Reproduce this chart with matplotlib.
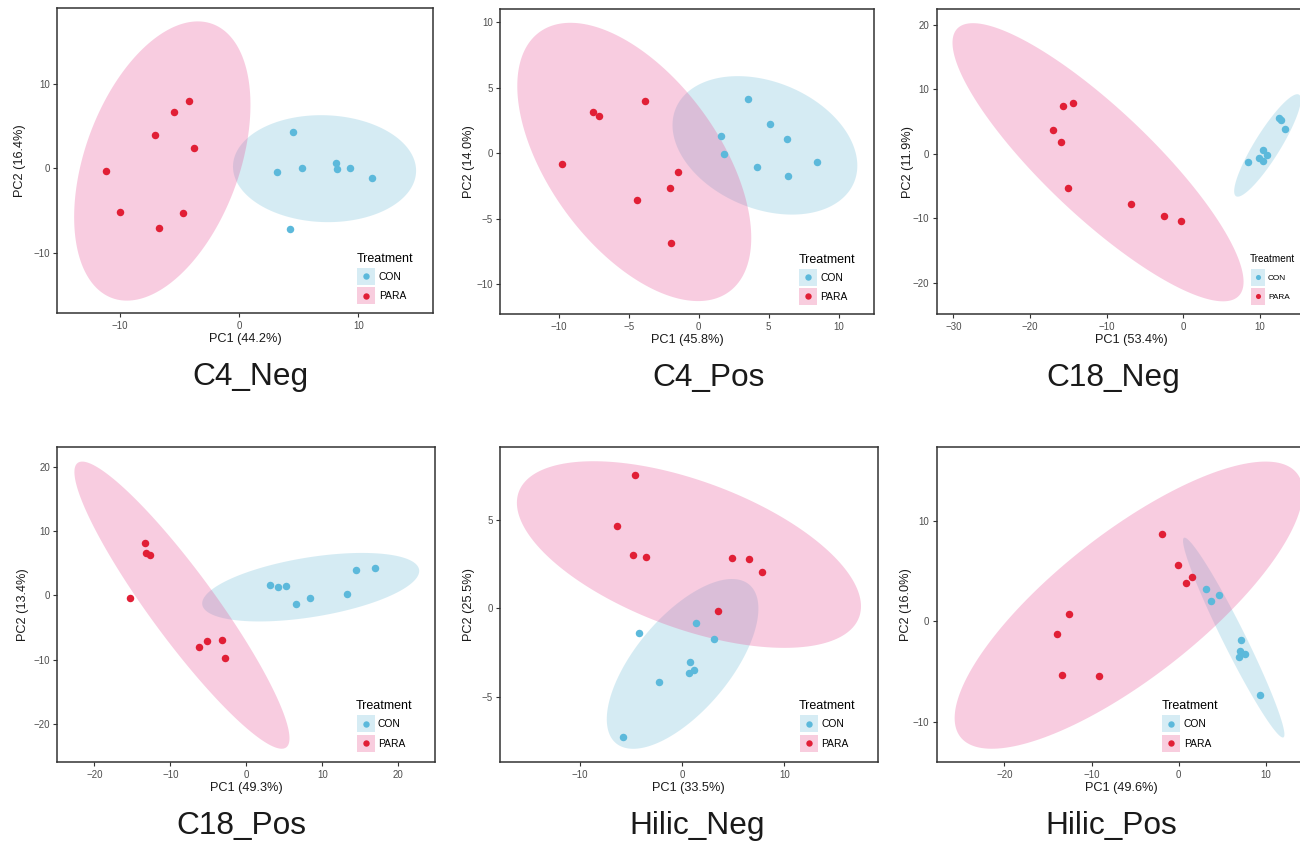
import numpy as np
import matplotlib
matplotlib.use("Agg")
import matplotlib.pyplot as plt
import matplotlib.transforms as mtransforms
from matplotlib.patches import Polygon, Rectangle
from matplotlib.lines import Line2D

plt.rcParams["font.family"] = ["Liberation Sans", "DejaVu Sans"]

# ---------------- data: PCA scores per sample ----------------
groups = ["CON", "PARA"]

c4neg_con_x = [4.47, 3.16, 5.25, 8.13, 8.24, 9.27, 11.15, 4.27]
c4neg_con_y = [4.35, -0.47, 0.08, 0.59, -0.04, 0.04, -1.11, -7.19]
c4neg_para_x = [-4.19, -5.47, -7.09, -3.80, -11.17, -10.03, -4.69, -6.70]
c4neg_para_y = [8.02, 6.64, 3.91, 2.45, -0.32, -5.14, -5.34, -7.11]

c4pos_con_x = [3.55, 5.12, 1.60, 6.33, 1.83, 4.19, 8.43, 6.40]
c4pos_con_y = [4.17, 2.26, 1.30, 1.12, -0.08, -1.02, -0.64, -1.70]
c4pos_para_x = [-7.52, -7.10, -3.81, -9.74, -1.45, -2.05, -4.43, -1.98]
c4pos_para_y = [3.13, 2.82, 4.02, -0.81, -1.40, -2.62, -3.56, -6.87]

c18neg_con_x = [12.48, 12.70, 13.26, 10.35, 9.87, 10.35, 10.91, 8.39]
c18neg_con_y = [5.54, 5.23, 3.89, 0.62, -0.67, -1.09, -0.16, -1.30]
c18neg_para_x = [-15.65, -14.43, -16.96, -15.96, -15.09, -6.83, -2.57, -0.35]
c18neg_para_y = [7.41, 7.93, 3.73, 1.92, -5.23, -7.82, -9.59, -10.41]

c18pos_con_x = [3.16, 4.17, 5.18, 6.54, 8.33, 13.20, 14.39, 16.89]
c18pos_con_y = [1.68, 1.32, 1.53, -1.27, -0.44, 0.23, 3.96, 4.22]
c18pos_para_x = [-13.33, -13.25, -12.72, -15.26, -6.27, -5.18, -3.16, -2.81]
c18pos_para_y = [8.10, 6.55, 6.34, -0.34, -8.05, -7.01, -6.91, -9.75]

hilneg_con_x = [-4.23, 1.39, 3.08, 0.73, 0.67, 1.19, -2.27, -5.76]
hilneg_con_y = [-1.42, -0.83, -1.74, -3.02, -3.65, -3.50, -4.20, -7.30]
hilneg_para_x = [-4.65, -6.41, -4.78, -3.51, 4.85, 6.57, 7.81, 3.51]
hilneg_para_y = [7.58, 4.65, 3.04, 2.89, 2.85, 2.80, 2.08, -0.15]

hilpos_con_x = [3.17, 4.62, 3.70, 7.14, 6.98, 7.56, 6.87, 9.35]
hilpos_con_y = [3.18, 2.59, 1.99, -1.92, -2.95, -3.25, -3.62, -7.33]
hilpos_para_x = [-1.87, -0.11, 1.49, 0.84, -12.60, -13.97, -13.44, -9.16]
hilpos_para_y = [8.72, 5.54, 4.44, 3.78, 0.73, -1.29, -5.34, -5.51]

titles = ["C4_Neg", "C4_Pos", "C18_Neg", "C18_Pos", "Hilic_Neg", "Hilic_Pos"]
pc1_labels = ["PC1 (44.2%)", "PC1 (45.8%)", "PC1 (53.4%)",
              "PC1 (49.3%)", "PC1 (33.5%)", "PC1 (49.6%)"]
pc2_labels = ["PC2 (16.4%)", "PC2 (14.0%)", "PC2 (11.9%)",
              "PC2 (13.4%)", "PC2 (25.5%)", "PC2 (16.0%)"]
x_ticks = [[-10, 0, 10], [-10, -5, 0, 5, 10], [-30, -20, -10, 0, 10],
           [-20, -10, 0, 10, 20], [-10, 0, 10], [-20, -10, 0, 10]]
y_ticks = [[-10, 0, 10], [-10, -5, 0, 5, 10], [-20, -10, 0, 10, 20],
           [-20, -10, 0, 10, 20], [-5, 0, 5], [-10, 0, 10]]

scores = [
    ((c4neg_con_x, c4neg_con_y), (c4neg_para_x, c4neg_para_y)),
    ((c4pos_con_x, c4pos_con_y), (c4pos_para_x, c4pos_para_y)),
    ((c18neg_con_x, c18neg_con_y), (c18neg_para_x, c18neg_para_y)),
    ((c18pos_con_x, c18pos_con_y), (c18pos_para_x, c18pos_para_y)),
    ((hilneg_con_x, hilneg_con_y), (hilneg_para_x, hilneg_para_y)),
    ((hilpos_con_x, hilpos_con_y), (hilpos_para_x, hilpos_para_y)),
]

# ---------------- styling ----------------
point_color = {"CON": "#5CB9DB", "PARA": "#E11F36"}
ellipse_color = {"CON": "#76C0DA", "PARA": "#E8589A"}
ellipse_alpha = 0.3
key_fill = {"CON": "#D6ECF4", "PARA": "#F8CDDE"}
frame_color = "#333333"
tick_label_color = "#4D4D4D"
text_color = "#1a1a1a"

W, H = 1300, 843
fig = plt.figure(figsize=(13, 8.43), dpi=100)
# pixel coordinates measured from the top-left corner of the figure
px = mtransforms.Affine2D().scale(1.0 / W, -1.0 / H).translate(0, 1) + fig.transFigure

# panel boxes in pixels: left, right, top, bottom
boxes = [(57.3, 433.3, 8.3, 313.3), (500.0, 874.3, 9.3, 314.3), (936.7, 1327.0, 9.3, 314.3),
         (57.3, 435.0, 447.3, 762.3), (500.0, 877.7, 447.3, 762.3), (936.7, 1307.0, 447.3, 762.3)]
xlims = [(-15.27, 16.28), (-14.19, 12.54), (-32.16, 18.74),
         (-24.87, 24.83), (-17.83, 19.13), (-27.75, 14.70)]
ylims = [(-17.19, 18.96), (-12.29, 10.99), (-24.91, 22.45),
         (-25.90, 23.01), (-8.73, 9.13), (-14.06, 17.31)]
ylabel_cx = [20.0, 469.3, 908.3, 23.3, 469.3, 906.0]
title_cx = [250.5, 708.5, 1113.5, 241.7, 697.5, 1111.7]

# legend placement: left edge of the legend title, its vertical centre, size factor
legend_left = [356.7, 798.3, 1250.0, 356.0, 799.0, 1161.7]
legend_title_cy = [257.7, 258.3, 258.3, 705.0, 705.0, 705.0]
legend_scale = [1.0, 1.0, 0.8, 1.0, 1.0, 1.0]
legend_key_w = [18.0, 18.0, 14.0, 18.0, 18.0, 18.0]

CAP_PX_PER_PT = 0.716 / 72 * 100  # cap height (px) per point of font size


def cov_trob(X, nu=5, maxit=25, tol=0.01):
    """Multivariate-t robust location/scatter (as in MASS::cov.trob)."""
    n, p = X.shape
    wt = np.ones(n)
    loc = X.mean(axis=0)
    w = np.sqrt(wt)
    Xc = X - loc
    for _ in range(maxit):
        w0 = w
        Xc = X - loc
        A = np.sqrt(w / w.sum())[:, None] * Xc
        _, d, Vt = np.linalg.svd(A, full_matrices=False)
        wX = Xc @ Vt.T @ np.diag(1.0 / d)
        Q = (wX ** 2).sum(axis=1)
        w = (wt * (nu + p)) / (nu + Q)
        loc = (w[:, None] * X).sum(axis=0) / w.sum()
        if np.all(np.abs(w - w0) < tol):
            break
    S = np.sqrt(w)[:, None] * Xc
    cov = S.T @ S / wt.sum()
    return loc, cov


def confidence_ellipse(x, y, level=0.95, segments=200):
    """95% t-based data ellipse, like ggplot2's stat_ellipse()."""
    X = np.column_stack([x, y]).astype(float)
    n = X.shape[0]
    center, shape = cov_trob(X)
    dfd = n - 1
    # quantile of F(2, dfd)
    fq = dfd / 2.0 * ((1 - level) ** (-2.0 / dfd) - 1)
    radius = np.sqrt(2 * fq)
    ang = np.linspace(0, 2 * np.pi, segments + 1)
    circle = np.column_stack([np.cos(ang), np.sin(ang)])
    L = np.linalg.cholesky(shape)
    return center + radius * circle @ L.T


def draw_legend(left, title_cy, k, key_w):
    """Treatment legend: filled key squares with a point, ggplot style."""
    title_pt = 9.0 * k
    label_pt = 7.4 * k
    key_h = 17.0
    fig.text(left, title_cy + CAP_PX_PER_PT * title_pt / 2, "Treatment",
             transform=px, fontsize=title_pt, color="black",
             ha="left", va="baseline")
    for j, g in enumerate(groups):
        cy = title_cy + 18.7 + 19.3 * j
        fig.add_artist(Rectangle((left + 0.5, cy - key_h / 2), key_w, key_h,
                                 transform=px, facecolor=key_fill[g],
                                 edgecolor="none", zorder=5))
        fig.add_artist(Line2D([left + 0.5 + key_w / 2], [cy], transform=px,
                              ls="none", marker="o", ms=4.6 * k, mew=0,
                              color=point_color[g], zorder=6))
        fig.text(left + 4.0 + key_w, cy + CAP_PX_PER_PT * label_pt / 2, g,
                 transform=px, fontsize=label_pt, color="black",
                 ha="left", va="baseline", zorder=6)


for i, ((con_xy, para_xy), box) in enumerate(zip(scores, boxes)):
    L, R, T, B = box
    axw, axh = R - L, B - T
    ax = fig.add_axes([L / W, 1 - B / H, axw / W, axh / H])
    ax.set_xlim(*xlims[i])
    ax.set_ylim(*ylims[i])
    ax.set_facecolor("white")

    data = {"CON": con_xy, "PARA": para_xy}
    for g in groups:
        gx, gy = data[g]
        ell = confidence_ellipse(gx, gy)
        ax.add_patch(Polygon(ell, closed=True, facecolor=ellipse_color[g],
                             alpha=ellipse_alpha, edgecolor="none", zorder=1))
    for g in groups:
        gx, gy = data[g]
        ax.plot(gx, gy, ls="none", marker="o", ms=5.4, mew=0,
                color=point_color[g], zorder=3)

    ax.set_xticks(x_ticks[i])
    ax.set_yticks(y_ticks[i])
    for s in ax.spines.values():
        s.set_color(frame_color)
        s.set_linewidth(1.1)
    ax.tick_params(direction="out", length=2.75, width=0.8, color=frame_color,
                   labelsize=7, labelcolor=tick_label_color, pad=2.6)

    ax.set_xlabel(pc1_labels[i], fontsize=9.2, color=text_color)
    ax.xaxis.set_label_coords(0.5, -25.6 / axh)
    ax.xaxis.label.set_va("center")
    ax.set_ylabel(pc2_labels[i], fontsize=9.2, color=text_color)
    ax.yaxis.set_label_coords(-(L - ylabel_cx[i]) / axw, 0.5)
    ax.yaxis.label.set_va("center")

    draw_legend(legend_left[i], legend_title_cy[i], legend_scale[i], legend_key_w[i])

    fig.text(title_cx[i] / W, 1 - (B + 72.0) / H, titles[i], ha="center",
             va="baseline", fontsize=22.8, color=text_color)

fig.savefig("out.png", dpi=100, facecolor="white")
